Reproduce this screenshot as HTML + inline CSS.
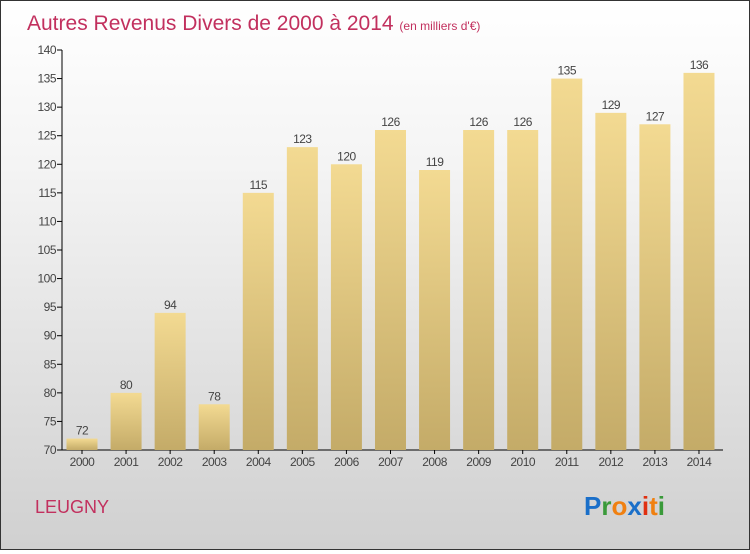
<!DOCTYPE html>
<html><head><meta charset="utf-8"><style>
body{margin:0;width:750px;height:550px;overflow:hidden}
#c{position:relative;width:748px;height:548px;border:1px solid #333;background:linear-gradient(#fff 0%,#f4f4f4 30%,#d0d0d0 100%);font-family:"Liberation Sans",sans-serif}
</style></head><body>
<div id="c">
<svg width="748" height="548">
<defs><linearGradient id="g" x1="0" y1="0" x2="0" y2="1"><stop offset="0" stop-color="#f3da92"/><stop offset="1" stop-color="#c4ab68"/></linearGradient></defs>
<text x="26" y="29" font-size="21" fill="#c2305e">Autres Revenus Divers de 2000 à 2014 <tspan font-size="12">(en milliers d'€)</tspan></text>
<text x="34" y="512" font-size="18" fill="#c2305e">LEUGNY</text>
<text x="583" y="514" font-size="26" font-weight="bold"><tspan fill="#1a6fc9">P</tspan><tspan fill="#3a9a3a">r</tspan><tspan fill="#f08010">o</tspan><tspan fill="#1a6fc9">x</tspan><tspan fill="#e03010">i</tspan><tspan fill="#f08010">t</tspan><tspan fill="#3a9a3a">i</tspan></text>
<g id="plot"></g>
</svg></div>
<script>
const years=["2000","2001","2002","2003","2004","2005","2006","2007","2008","2009","2010","2011","2012","2013","2014"];
const values=[72,80,94,78,115,123,120,126,119,126,126,135,129,127,136];
const ticks=[70,75,80,85,90,95,100,105,110,115,120,125,130,135,140];
const NS="http://www.w3.org/2000/svg",p=document.getElementById('plot');
const y=v=>449-(v-70)*400/70, x=i=>81+i*44.07;
function el(t,a,txt){const e=document.createElementNS(NS,t);for(const k in a)e.setAttribute(k,a[k]);if(txt!=null)e.textContent=txt;p.appendChild(e);return e;}
ticks.forEach(t=>{
 const l=el('line',{x1:56,x2:61,y1:y(t),y2:y(t),stroke:'#000'});
 
 
 const tx=el('text',{x:55,y:y(t)+4,'font-size':12,'text-anchor':'end',fill:'#444','letter-spacing':'-0.5'},t);
 
 
});
const ax=el('line',{x1:61,x2:61,y1:y(140),y2:y(70),stroke:'#000'});


const xa=el('line',{x1:61,x2:722,y1:y(70),y2:y(70),stroke:'#000'});


years.forEach((yr,i)=>{
 const v=values[i];
 const b=el('rect',{x:x(i)-15.5,y:y(v),width:31,height:y(70)-y(v),fill:'url(#g)'});
 
 
 const lb=el('text',{x:x(i),y:y(v)-4,'font-size':12,'text-anchor':'middle',fill:'#444','letter-spacing':'-0.5'},v);
 
 
 const tk=el('line',{x1:x(i),x2:x(i),y1:y(70),y2:y(70)+4,stroke:'#000'});
 
 
 const xl=el('text',{x:x(i),y:y(70)+16,'font-size':12,'text-anchor':'middle',fill:'#444','letter-spacing':'-0.5'},yr);
 
 
});
</script>
</body></html>
